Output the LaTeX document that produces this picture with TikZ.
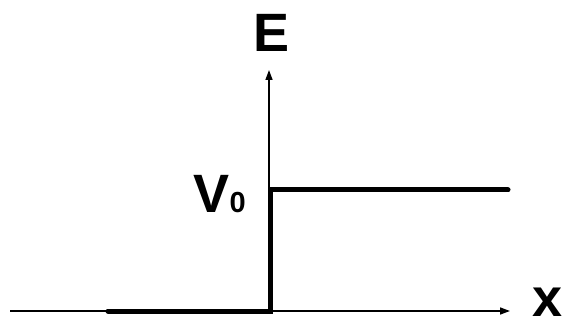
\documentclass[tikz,border=0pt]{standalone}
\usepackage{fontspec}
\setmainfont{Liberation Sans}
\usetikzlibrary{arrows.meta,positioning}

\begin{document}
\begin{tikzpicture}[
    x=1pt, y=-1pt,
    axis/.style={-{Triangle[length=10pt,width=7pt]}, line width=1.5pt},
    level/.style={line width=5pt, line cap=round, line join=miter},
    lbl/.style={inner sep=0pt, font=\fontsize{54}{54}\selectfont\bfseries}
]
    \useasboundingbox (0,0) rectangle (568,326);

    % --- axes ---
    \coordinate (x_start) at (10,311);
    \coordinate (x_end) at (510,311);
    \coordinate (origin) at (269,311);
    \coordinate (e_end) at (269,70);
    \draw[axis] (x_start) -- (x_end);
    \draw[axis] (origin) -- (e_end);

    % --- potential step ---
    \coordinate (step_left) at (108,311);
    \coordinate (step_foot) at (270,311);
    \coordinate (step_top) at (270,190);
    \coordinate (step_right) at (508,190);
    \draw[level] (step_left) -- (step_foot) -- (step_top) -- (step_right);

    % --- labels ---
    \node[lbl, anchor=base] (e_label) at (272,52) {E};
    \node[lbl, anchor=base east] (v_label) at (246,213) {V{\fontsize{29}{29}\selectfont 0}};
    \node[lbl, anchor=base west] (x_label) at (532,316) {x};

\end{tikzpicture}
\end{document}
